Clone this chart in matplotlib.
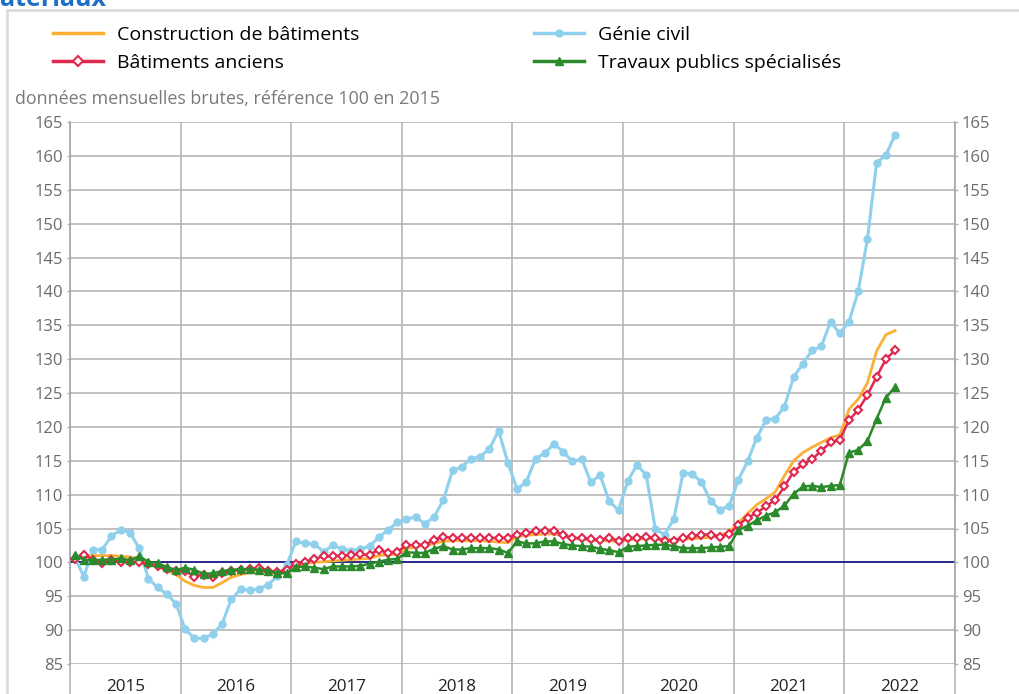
import numpy as np
import matplotlib
matplotlib.use('Agg')
import matplotlib.pyplot as plt
from matplotlib.lines import Line2D
from matplotlib.patches import Rectangle

plt.rcParams['font.family'] = ['Open Sans', 'DejaVu Sans']

# séries mensuelles, janvier 2015 -> juin 2022
annees = ['2015', '2016', '2017', '2018', '2019', '2020', '2021', '2022']

construction = [100.5, 100.8, 101.0, 101.0, 101.0, 100.9, 100.8, 100.5, 100.0, 99.4, 98.8, 98.2,
                97.2, 96.6, 96.3, 96.3, 97.0, 97.8, 98.2, 98.5, 98.8, 98.6, 98.4, 98.4,
                99.3, 99.8, 100.0, 100.1, 100.2, 100.3, 100.4, 100.5, 100.6, 101.0, 101.1, 101.2,
                102.0, 102.3, 102.5, 102.8, 103.1, 103.2, 103.2, 103.2, 103.2, 103.1, 103.0, 102.9,
                103.8, 104.0, 104.1, 104.2, 104.2, 103.9, 103.6, 103.4, 103.3, 103.2, 103.2, 103.1,
                103.3, 103.4, 103.5, 103.5, 103.4, 103.4, 103.4, 103.5, 103.6, 103.7, 104.0, 104.5,
                105.8, 107.2, 108.5, 109.4, 110.4, 112.8, 115.0, 116.2, 117.0, 117.7, 118.4, 118.8,
                122.6, 124.1, 126.5, 131.2, 133.6, 134.2]

genie_civil = [100.8, 97.9, 101.9, 101.9, 103.9, 104.8, 104.4, 102.1, 97.6, 96.3, 95.3, 93.9,
               90.1, 88.8, 88.8, 89.4, 90.9, 94.6, 96.0, 95.9, 96.1, 96.7, 98.0, 99.6,
               103.1, 102.8, 102.7, 101.6, 102.5, 102.0, 101.7, 102.0, 102.4, 103.7, 104.8, 105.9,
               106.4, 106.7, 105.7, 106.7, 109.2, 113.6, 114.1, 115.3, 115.6, 116.8, 119.4, 114.7,
               110.8, 111.9, 115.3, 116.1, 117.5, 116.3, 114.9, 115.3, 111.8, 112.9, 109.0, 107.7,
               112.0, 114.4, 112.9, 104.9, 104.1, 106.4, 113.2, 113.0, 111.9, 109.0, 107.8, 108.3,
               112.2, 114.9, 118.4, 121.0, 121.2, 123.0, 127.4, 129.3, 131.3, 131.9, 135.5, 133.8,
               135.5, 140.0, 147.7, 159.0, 160.1, 163.1]

anciens = [100.5, 101.1, 100.4, 99.9, 100.4, 100.0, 100.1, 100.0, 99.7, 99.4, 99.0, 98.8,
           98.7, 97.9, 98.2, 97.8, 98.4, 98.7, 98.9, 99.0, 99.2, 98.8, 98.6, 98.9,
           99.8, 100.1, 100.5, 100.9, 100.9, 101.0, 101.1, 101.2, 101.1, 101.9, 101.4, 101.6,
           102.5, 102.6, 102.6, 103.3, 103.8, 103.6, 103.6, 103.6, 103.6, 103.6, 103.6, 103.6,
           104.1, 104.3, 104.6, 104.7, 104.7, 104.0, 103.6, 103.6, 103.4, 103.3, 103.6, 103.2,
           103.6, 103.6, 103.8, 103.6, 103.2, 103.2, 103.6, 103.9, 104.1, 104.1, 103.8, 104.2,
           105.5, 106.6, 107.3, 108.3, 109.2, 111.2, 113.4, 114.5, 115.2, 116.5, 117.7, 118.1,
           121.0, 122.5, 124.7, 127.4, 130.0, 131.3]

travaux_publics = [101.1, 100.4, 100.3, 100.4, 100.4, 100.6, 100.3, 100.9, 100.1, 99.9, 99.3, 98.9,
                   99.2, 98.9, 98.3, 98.4, 98.7, 98.9, 99.0, 99.0, 98.9, 98.8, 98.4, 98.4,
                   99.3, 99.4, 99.2, 99.0, 99.4, 99.4, 99.4, 99.5, 99.8, 100.1, 100.4, 100.5,
                   101.5, 101.4, 101.4, 102.0, 102.4, 101.9, 101.9, 102.1, 102.1, 102.1, 101.9, 101.4,
                   103.1, 102.8, 102.8, 103.1, 103.1, 102.7, 102.5, 102.4, 102.3, 102.0, 101.8, 101.5,
                   102.3, 102.4, 102.5, 102.6, 102.6, 102.4, 102.1, 102.1, 102.1, 102.2, 102.3, 102.4,
                   104.8, 105.4, 106.2, 106.9, 107.4, 108.4, 110.1, 111.2, 111.3, 111.1, 111.3, 111.4,
                   116.2, 116.6, 117.9, 121.2, 124.3, 125.9]

c_orange = '#fbb034'
c_bleu = '#8fd0ec'
c_rouge = '#e0284f'
c_vert = '#2b8a2b'
c_grille = '#b5b5b5'
c_texte = '#6b6b6b'

mois = np.arange(len(genie_civil)) + 0.5

fig = plt.figure(figsize=(10.2, 6.94), dpi=100)
ax = fig.add_axes([70 / 1020, 30 / 694, 885 / 1020, 542 / 694])

ax.plot(mois, construction, color=c_orange, lw=2, zorder=3)
ax.plot(mois, genie_civil, color=c_bleu, lw=2.2, marker='o', ms=5, zorder=2)
ax.plot(mois, anciens, color=c_rouge, lw=1.8, marker='D', ms=4.5, mfc='white',
        mec=c_rouge, mew=1.5, zorder=4)
ax.plot(mois, travaux_publics, color=c_vert, lw=1.8, marker='^', ms=6, zorder=5)
ax.axhline(100, color='#000080', lw=1.1, zorder=1.5)

ax.set_xlim(0, 12 * len(annees))
ax.set_ylim(85, 165)
ax.set_yticks(np.arange(85, 166, 5))

ax.set_xticks(np.arange(0, 12 * len(annees) + 1, 12))
ax.set_xticklabels([])
ax.set_xticks(np.arange(6, 12 * len(annees), 12), minor=True)
ax.set_xticklabels(annees, minor=True)
ax.tick_params(axis='x', which='major', length=22, width=1.2, color=c_grille, direction='out')
ax.tick_params(axis='x', which='minor', length=0, pad=10.5, labelsize=12.3, labelcolor='#222222')
ax.tick_params(axis='y', length=2, width=1, color=c_grille, pad=3, labelsize=12,
               labelcolor=c_texte, right=True, labelright=True)

ax.grid(True, which='major', color=c_grille, lw=1.2)
ax.set_axisbelow(True)
for side in ['top', 'bottom']:
    ax.spines[side].set_visible(False)
for side in ['left', 'right']:
    ax.spines[side].set_color('#a6a6a6')
    ax.spines[side].set_linewidth(1.2)

# cadre gris clair et titre coupé en haut
fig.patches.append(Rectangle((7 / 1020, -0.05), 1.1, 1 - 10 / 694 + 0.05,
                             transform=fig.transFigure, fill=False,
                             edgecolor='#dcdcdc', lw=2))
fig.text(0.0, 1 - 6 / 694, 'atériaux', color='#1f6fc5', fontsize=18,
         fontweight='bold', va='baseline', ha='left')

fig.text(15 / 1020, 1 - 99 / 694, 'données mensuelles brutes, référence 100 en 2015',
         color='#7a7a7a', fontsize=12.9, va='center', ha='left')

handles = [
    Line2D([], [], color=c_orange, lw=2.5),
    Line2D([], [], color=c_rouge, lw=2.5, marker='D', ms=5, mfc='white', mec=c_rouge, mew=1.5),
    Line2D([], [], color=c_bleu, lw=2.5, marker='o', ms=5),
    Line2D([], [], color=c_vert, lw=2.5, marker='^', ms=6),
]
labels = ['Construction de bâtiments', 'Bâtiments anciens', 'Génie civil',
          'Travaux publics spécialisés']
fig.legend(handles, labels, loc='upper left', bbox_to_anchor=(53 / 1020, 1 - 25.5 / 694),
           ncol=2, frameon=False, fontsize=14, handlelength=2.58, handletextpad=0.72,
           columnspacing=8.97, labelspacing=0.55, borderpad=0, borderaxespad=0)

fig.savefig('out.png', dpi=100)
